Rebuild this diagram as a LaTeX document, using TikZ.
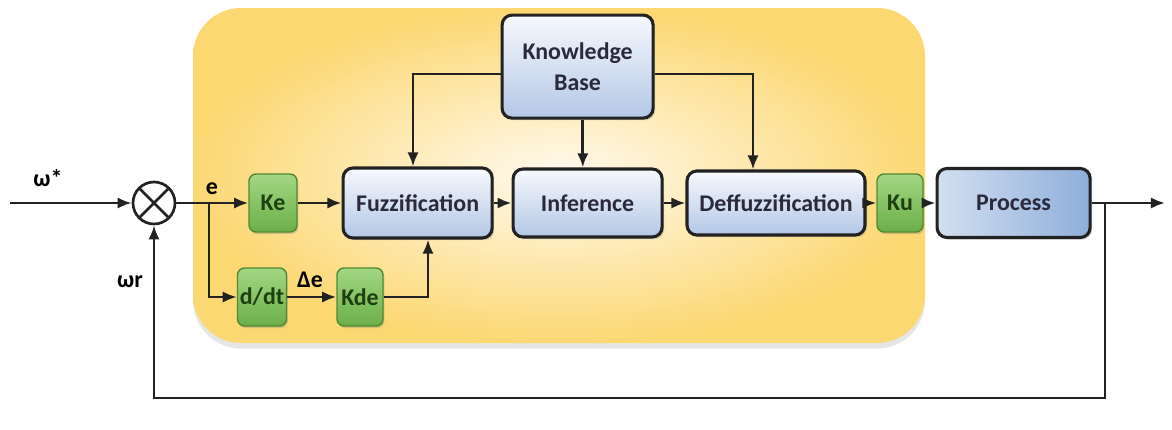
\documentclass[tikz,border=0pt]{standalone}
\usepackage{fontspec}
\setmainfont{Carlito}
\usetikzlibrary{positioning, arrows.meta, calc, shadows}
\definecolor{fzyellow}{HTML}{FCD873}
\definecolor{fzcream}{HTML}{FFFAEF}
\definecolor{fzblueT}{HTML}{F7F9FD}
\definecolor{fzblueB}{HTML}{B3C7E6}
\definecolor{fzgreenT}{HTML}{A3D783}
\definecolor{fzgreenB}{HTML}{6BAF48}
\definecolor{fzgreenD}{HTML}{4F8A33}
\definecolor{fzgtext}{HTML}{1E3F12}
\definecolor{fzline}{HTML}{222222}
\definecolor{fztext}{HTML}{2A2A3A}
\definecolor{fzprocL}{HTML}{D3DFF1}
\definecolor{fzprocR}{HTML}{8EAEDB}

\begin{document}
\begin{tikzpicture}[font=\bfseries\fontsize{17}{20}\selectfont,
    blk/.style={draw=fzline, line width=2.2pt, rounded corners=7pt,
          top color=fzblueT, bottom color=fzblueB, text=fztext, align=center,
          drop shadow={opacity=0.3, shadow xshift=1.5pt, shadow yshift=-1.5pt}},
    gain/.style={draw=fzgreenD, line width=1pt, rounded corners=5pt,
          top color=fzgreenT, bottom color=fzgreenB, text=fzgtext,
          minimum width=1.2cm, minimum height=1.45cm, inner sep=1pt,
          drop shadow={opacity=0.3, shadow xshift=1pt, shadow yshift=-1.5pt}},
    sig/.style={draw=fzline, line width=1.9pt, -{Latex[length=10pt,width=8pt]}},
    lbl/.style={text=black}]
  \useasboundingbox (0,0) rectangle (29.3,10.725);

  % controller background
  \path[rounded corners=1.2cm, inner color=fzcream, outer color=fzyellow,
        drop shadow={opacity=0.2, shadow xshift=0pt, shadow yshift=-4pt}]
        (4.825,2.15) rectangle (23.125,10.525);

  % summing junction
  \node[draw=fzline, line width=1.9pt, circle, minimum size=1.05cm, fill=white,
        path picture={\draw[fzline, line width=1.9pt]
          (path picture bounding box.north west) -- (path picture bounding box.south east)
          (path picture bounding box.south west) -- (path picture bounding box.north east);}]
        (sum) at (3.85,5.65) {};

  % gains
  \node[gain] (ke) at (6.825,5.65) {Ke};
  \node[gain, minimum width=1.225cm] (ddt) at (6.55,3.3) {d/dt};
  \node[gain, minimum width=1.15cm] (kde) at (9.0,3.3) {Kde};
  \node[gain, minimum width=1.15cm] (ku) at (22.5,5.65) {Ku};

  % fuzzy blocks
  \node[blk, minimum width=3.725cm, minimum height=1.75cm] (fuzz) at (10.44,5.65) {Fuzzification};
  \node[blk, minimum width=3.725cm, minimum height=1.7cm] (inf) at (14.69,5.65) {Inference};
  \node[blk, minimum width=4.45cm, minimum height=1.6cm] (deff) at (19.4,5.65) {Deffuzzification};
  \node[blk, minimum width=3.775cm, minimum height=2.575cm] (kb) at (14.44,9.06) {Knowledge\\[2pt]Base};

  % plant
  \node[blk, left color=fzprocL, right color=fzprocR, minimum width=3.825cm,
        minimum height=1.725cm] (proc) at (25.34,5.65) {Process};

  % signal labels
  \node[lbl] (wref) at (1.2,6.275) {ω*};
  \node[lbl] (err) at (5.3,6.0) {e};
  \node[lbl] (derr) at (7.75,3.72) {Δe};
  \node[lbl] (wr) at (3.25,3.675) {ωr};

  \coordinate (in) at (0.25,5.65);
  \coordinate (br) at (5.225,5.65);
  \coordinate (tap) at (27.625,5.65);
  \coordinate (out) at (29.125,5.65);
  \coordinate (fb) at (27.625,0.775);

  % forward path
  \draw[sig] (in) -- (sum);
  \draw[sig] (sum) -- (ke);
  \draw[sig] (br) |- (ddt.west);
  \draw[sig] (ddt) -- (kde);
  \draw[sig] (ke) -- (fuzz);
  \draw[sig] (kde.east) -| ([xshift=0.26cm]fuzz.south);
  \draw[sig] (fuzz) -- (inf);
  \draw[sig] (inf) -- (deff);
  \draw[sig] (deff) -- (ku);
  \draw[sig] (ku) -- (proc);
  \draw[sig] (proc) -- (out);

  % knowledge base links
  \draw[sig] ([yshift=-0.185cm]kb.west) -| ([xshift=-0.115cm]fuzz.north);
  \draw[sig] ([xshift=0.13cm]kb.south) -- ([xshift=0.13cm]kb.south |- inf.north);
  \draw[sig] ([yshift=-0.185cm]kb.east) -| ([xshift=-0.575cm]deff.north);

  % feedback
  \draw[sig] (tap) -- (fb) -| (sum.south);
\end{tikzpicture}
\end{document}
